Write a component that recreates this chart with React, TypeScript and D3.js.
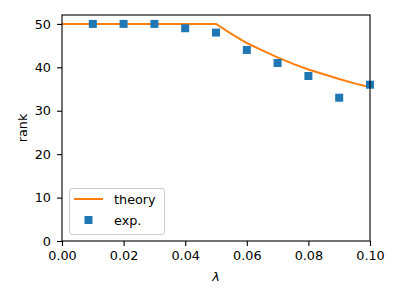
import * as React from "react";
import * as d3 from "d3";

// experimental points
const expLambda = [0.01, 0.02, 0.03, 0.04, 0.05, 0.06, 0.07, 0.08, 0.09, 0.1];
const expRank = [50, 50, 50, 49, 48, 44, 41, 38, 33, 36];

// theory curve
const theoryLambda = [0, 0.05, 0.055, 0.06, 0.065, 0.07, 0.075, 0.08, 0.085, 0.09, 0.095, 0.1];
const theoryRank = [50, 50, 47.7, 45.6, 43.9, 42.3, 40.8, 39.5, 38.4, 37.3, 36.3, 35.4];

const xTicks = [0, 0.02, 0.04, 0.06, 0.08, 0.1];
const yTicks = [0, 10, 20, 30, 40, 50];

const legendLabels = ["theory", "exp."];

function drawChart(svgRef: React.RefObject<SVGSVGElement>) {
  const svg = d3.select(svgRef.current);
  svg.selectAll("*").remove();

  const left = 62;
  const right = 370;
  const top = 15;
  const bottom = 241;
  const font = '"DejaVu Sans", sans-serif';
  const fontSize = 12.8;
  const orange = "#ff7f0e";
  const blue = "#1f77b4";

  const x = d3.scaleLinear().domain([0, 0.1]).range([left, right]);
  const y = d3.scaleLinear().domain([0, 52.05]).range([bottom, top]);

  // theory line
  const line = d3
    .line<number>()
    .x((d) => x(d))
    .y((_d, i) => y(theoryRank[i]));

  svg
    .append("path")
    .attr("d", line(theoryLambda))
    .attr("fill", "none")
    .attr("stroke", orange)
    .attr("stroke-width", 2);

  // squares
  const s = 8;
  svg
    .append("g")
    .selectAll("rect")
    .data(expLambda)
    .enter()
    .append("rect")
    .attr("x", (d) => x(d) - s / 2)
    .attr("y", (_d, i) => y(expRank[i]) - s / 2)
    .attr("width", s)
    .attr("height", s)
    .attr("fill", blue);

  // frame
  svg
    .append("rect")
    .attr("x", left)
    .attr("y", top)
    .attr("width", right - left)
    .attr("height", bottom - top)
    .attr("fill", "none")
    .attr("stroke", "black")
    .attr("stroke-width", 1.1);

  const xAxis = d3
    .axisBottom(x)
    .tickValues(xTicks)
    .tickSize(5)
    .tickSizeOuter(0)
    .tickPadding(5)
    .tickFormat(d3.format(".2f"));

  const yAxis = d3
    .axisLeft(y)
    .tickValues(yTicks)
    .tickSize(5)
    .tickSizeOuter(0)
    .tickPadding(6);

  const gx = svg
    .append("g")
    .attr("transform", `translate(0, ${bottom})`)
    .call(xAxis);
  const gy = svg.append("g").attr("transform", `translate(${left}, 0)`).call(yAxis);

  [gx, gy].forEach((g) => {
    g.select(".domain").remove();
    g.selectAll("line").attr("stroke", "black").attr("stroke-width", 1.1);
    g.selectAll("text")
      .attr("fill", "black")
      .attr("font-size", fontSize)
      .attr("font-family", font);
  });

  // axis labels
  svg
    .append("text")
    .attr("x", (left + right) / 2)
    .attr("y", 281)
    .attr("text-anchor", "middle")
    .attr("font-family", font)
    .attr("font-style", "italic")
    .attr("font-size", fontSize)
    .text("λ");

  svg
    .append("text")
    .attr("transform", `translate(27, ${(top + bottom) / 2}) rotate(-90)`)
    .attr("text-anchor", "middle")
    .attr("font-family", font)
    .attr("font-size", fontSize)
    .text("rank");

  // legend
  const lg = svg.append("g");
  lg.append("rect")
    .attr("x", 69.5)
    .attr("y", 188.5)
    .attr("width", 95)
    .attr("height", 46)
    .attr("rx", 2.5)
    .attr("fill", "white")
    .attr("fill-opacity", 0.8)
    .attr("stroke", "#cccccc")
    .attr("stroke-width", 1);

  lg.append("line")
    .attr("x1", 74)
    .attr("x2", 103)
    .attr("y1", 199)
    .attr("y2", 199)
    .attr("stroke", orange)
    .attr("stroke-width", 2);

  lg.append("rect")
    .attr("x", 88.5 - s / 2)
    .attr("y", 220 - s / 2)
    .attr("width", s)
    .attr("height", s)
    .attr("fill", blue);

  lg.selectAll("text.lbl")
    .data(legendLabels)
    .enter()
    .append("text")
    .attr("class", "lbl")
    .attr("x", 114)
    .attr("y", (_d, i) => 203.5 + i * 21)
    .attr("font-family", font)
    .attr("font-size", fontSize)
    .attr("fill", "black")
    .text((d) => d);
}

export default function App() {
  const svg = React.useRef<SVGSVGElement>(null);
  React.useEffect(() => {
    drawChart(svg);
  }, [svg]);

  return (
    <svg
      ref={svg}
      width={400}
      height={300}
      style={{ position: "absolute", left: 0, top: 0, background: "white" }}
    />
  );
}
